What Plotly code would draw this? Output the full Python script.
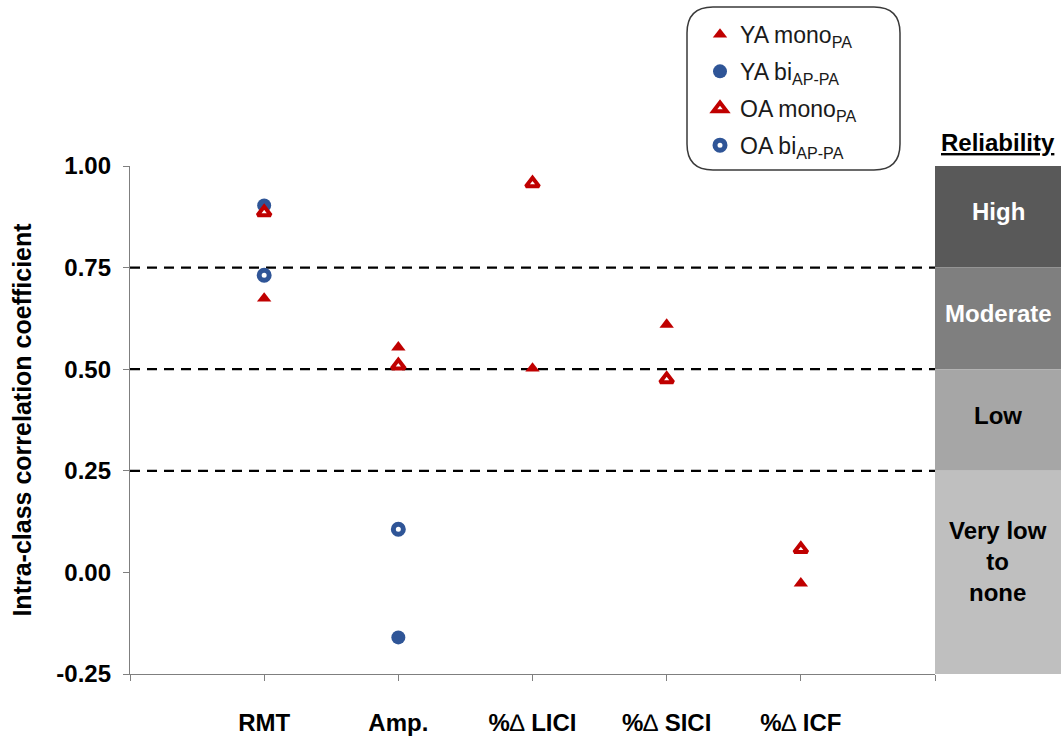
import plotly.graph_objects as go

# ---- data ---------------------------------------------------------------
categories = ["RMT", "Amp.", "%\u2206 LICI", "%\u2206 SICI", "%\u2206 ICF"]
ya_mono = [0.674, 0.554, 0.502, 0.610, -0.027]
ya_bi = [0.903, -0.160, None, None, None]
oa_mono = [0.886, 0.509, 0.957, 0.475, 0.057]
oa_bi = [0.731, 0.106, None, None, None]

band_edges = [1.00, 0.75, 0.50, 0.25, -0.25]
band_labels = ["High", "Moderate", "Low", "Very low<br>to<br>none"]
band_fill = ["#595959", "#7f7f7f", "#a6a6a6", "#bfbfbf"]
band_text = ["#ffffff", "#ffffff", "#000000", "#000000"]
cut_lines = [0.25, 0.50, 0.75]
y_ticks = [-0.25, 0.00, 0.25, 0.50, 0.75, 1.00]

# ---- geometry -----------------------------------------------------------
FIG_W, FIG_H = 1061, 738
M_L, M_R, M_T, M_B = 130, 126, 166, 64
PW = FIG_W - M_L - M_R
PH = FIG_H - M_T - M_B


def px_x(px):
    return (px - M_L) / PW


def px_y(py):
    return (FIG_H - M_B - py) / PH


FONT = "Arial, 'Liberation Sans', Helvetica, sans-serif"
RED = "#c00000"
BLUE = "#2f5597"
AXIS_GREY = "#7f7f7f"

xpos = list(range(1, len(categories) + 1))

fig = go.Figure()

fig.add_trace(go.Scatter(
    x=xpos, y=ya_mono, mode="markers", name="YA mono<sub>PA</sub>",
    legendgroup="g1",
    marker=dict(symbol="triangle-up", size=12.5, color=RED, line=dict(width=0)),
))
fig.add_trace(go.Scatter(
    x=xpos, y=ya_bi, mode="markers", name="YA bi<sub>AP-PA</sub>",
    legendgroup="g2",
    marker=dict(symbol="circle", size=14, color=BLUE, line=dict(width=0)),
))
fig.add_trace(go.Scatter(
    x=xpos, y=oa_mono, mode="markers", name="OA mono<sub>PA</sub>",
    legendgroup="g3",
    marker=dict(symbol="triangle-up", size=11.5, color="white",
                line=dict(width=4, color=RED)),
))
fig.add_trace(go.Scatter(
    x=xpos, y=oa_bi, mode="markers", name="OA bi<sub>AP-PA</sub>",
    legendgroup="g4",
    marker=dict(symbol="circle", size=10, color="white",
                line=dict(width=5, color=BLUE)),
))

shapes = []
# dashed reliability cut-offs
for c in cut_lines:
    shapes.append(dict(type="line", xref="paper", yref="y", x0=0, x1=1,
                       y0=c, y1=c, layer="below",
                       line=dict(color="#000000", width=2.2, dash="10px,7px")))

# reliability bands to the right of the plot
band_x0, band_x1 = 1.0, px_x(FIG_W)
annotations = []
for i, lab in enumerate(band_labels):
    top, bot = band_edges[i], band_edges[i + 1]
    n_lines = lab.count("<br>") + 1
    shapes.append(dict(type="rect", xref="paper", yref="y",
                       x0=band_x0, x1=band_x1, y0=bot, y1=top,
                       fillcolor=band_fill[i], line=dict(width=0), layer="above"))
    annotations.append(dict(
        xref="paper", yref="y", x=(band_x0 + band_x1) / 2, y=(top + bot) / 2,
        text="<b>" + lab + "</b>", showarrow=False,
        font=dict(family=FONT, size=24, color=band_text[i]),
        xanchor="center", yanchor="middle", align="center",
        yshift=5 if n_lines == 1 else 11,
    ))

annotations.append(dict(
    xref="paper", yref="paper", x=(band_x0 + band_x1) / 2, y=px_y(142),
    text="<b><u>Reliability</u></b>", showarrow=False,
    font=dict(family=FONT, size=24, color="#000000"),
    xanchor="center", yanchor="middle",
))

# rounded frame around the legend
bx0, bx1 = px_x(687), px_x(900)
by0, by1 = px_y(170), px_y(7)
rx, ry = 26 / PW, 26 / PH
path = (f"M {bx0 + rx},{by1} L {bx1 - rx},{by1} Q {bx1},{by1} {bx1},{by1 - ry} "
        f"L {bx1},{by0 + ry} Q {bx1},{by0} {bx1 - rx},{by0} "
        f"L {bx0 + rx},{by0} Q {bx0},{by0} {bx0},{by0 + ry} "
        f"L {bx0},{by1 - ry} Q {bx0},{by1} {bx0 + rx},{by1} Z")
shapes.append(dict(type="path", xref="paper", yref="paper", path=path,
                   fillcolor="rgba(255,255,255,1)",
                   line=dict(color="#3a3a3a", width=1.5), layer="above"))

x_ticktext = [
    "<b>" + c.replace("\u2206", "<span style='font-weight:normal'>\u2206</span>") + "</b>"
    for c in categories
]

fig.update_layout(
    width=FIG_W, height=FIG_H,
    margin=dict(l=M_L, r=M_R, t=M_T, b=M_B, pad=0, autoexpand=False),
    paper_bgcolor="white", plot_bgcolor="white",
    font=dict(family=FONT, color="#000000"),
    shapes=shapes, annotations=annotations,
    showlegend=True,
    legend=dict(
        x=px_x(700), y=px_y(13), xanchor="left", yanchor="top",
        bgcolor="rgba(0,0,0,0)", borderwidth=0,
        font=dict(family=FONT, size=23, color="#1a1a1a"),
        tracegroupgap=4, itemsizing="trace",
    ),
    xaxis=dict(
        range=[0, len(categories) + 1],
        tickvals=xpos, ticktext=x_ticktext,
        ticks="outside", ticklen=6, tickwidth=1.3, tickcolor=AXIS_GREY,
        minor=dict(tick0=0, dtick=1, ticks="outside", ticklen=6,
                   tickwidth=1.3, tickcolor=AXIS_GREY, showgrid=False),
        showline=True, linecolor=AXIS_GREY, linewidth=1.3,
        showgrid=False, zeroline=False, automargin=False,
        tickfont=dict(family=FONT, size=24, color="#000000"),
        ticklabelstandoff=21,
    ),
    yaxis=dict(
        range=[-0.25, 1.0],
        tickvals=y_ticks, ticktext=[f"{v:.2f}" for v in y_ticks],
        ticks="outside", ticklen=6, tickwidth=1.3, tickcolor=AXIS_GREY,
        showline=True, linecolor=AXIS_GREY, linewidth=1.3,
        showgrid=False, zeroline=False, automargin=False,
        tickfont=dict(family=FONT, size=24, color="#000000", weight="bold"),
        ticklabelstandoff=7,
        title=dict(text="<b>Intra-class correlation coefficient</b>",
                   font=dict(family=FONT, size=25, color="#000000"),
                   standoff=17),
    ),
)

fig.write_html("out.html")
